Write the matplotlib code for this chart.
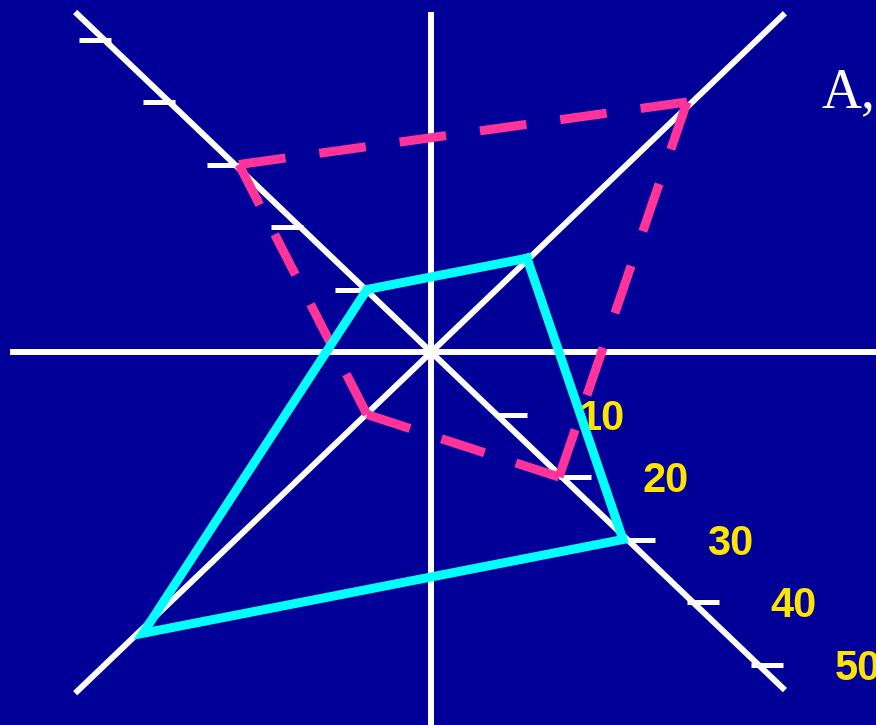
import numpy as np
import matplotlib
matplotlib.use("Agg")
import matplotlib.pyplot as plt

# ---- data ----
axis_names = ["NE", "SE", "SW", "NW"]
axis_dirs = [(1, 1), (1, -1), (-1, -1), (-1, 1)]
cyan_values = [15, 30, 45, 10]
pink_values = [40, 20, 10, 30]
tick_values = [10, 20, 30, 40, 50]
tick_labels = ["10", "20", "30", "40", "50"]
title_text = "A,"

BG = "#000099"
W, H, DPI = 876, 725, 100

fig = plt.figure(figsize=(W / DPI, H / DPI), dpi=DPI, facecolor=BG)
ax = fig.add_axes([0, 0, 1, 1])
ax.set_facecolor(BG)
ax.set_xlim(-67.34, 69.53)
ax.set_ylim(-59.68, 56.32)
ax.axis("off")

white_lw = 4.3
# axis lines
ax.plot([-65.8, 75], [0, 0], color="white", lw=white_lw, solid_capstyle="butt", zorder=1)
ax.plot([0, 0], [-65, 54.4], color="white", lw=white_lw, solid_capstyle="butt", zorder=1)
ax.plot([-55.6, 55.3], [54.4, -54.1], color="white", lw=white_lw, solid_capstyle="butt", zorder=1)
ax.plot([-55.6, 55.3], [-54.6, 54.2], color="white", lw=white_lw, solid_capstyle="butt", zorder=1)

# tick marks on the NW-SE diagonal
tick_len = 5.0
for v in tick_values:
    ax.plot([v, v + tick_len], [-v, -v], color="white", lw=3.6, solid_capstyle="butt", zorder=1)
    ax.plot([-v - tick_len, -v], [v, v], color="white", lw=3.6, solid_capstyle="butt", zorder=1)

# tick labels
for v, lab in zip(tick_values, tick_labels):
    ax.text(v + 16.7, -v - 0.7, lab, color="#FFE400", fontsize=30, fontweight="bold",
            family=["Liberation Sans", "DejaVu Sans"], ha="center", va="center",
            zorder=2, clip_on=False)


def verts(values):
    return [(d[0] * v, d[1] * v) for d, v in zip(axis_dirs, values)]


# pink dashed polygon, each side drawn separately so each starts and ends with a dash
pv = verts(pink_values)
dash_px, gap_px = 48.0, 35.0
for i in range(len(pv)):
    p0, p1 = pv[i], pv[(i + 1) % len(pv)]
    d0 = ax.transData.transform(p0)
    d1 = ax.transData.transform(p1)
    L = float(np.hypot(*(d1 - d0)))
    n = max(1, int(round((L - dash_px) / (dash_px + gap_px))))
    s = L / (n * (dash_px + gap_px) + dash_px)
    lw = 6.5
    on = dash_px * s * 72 / DPI / lw
    off = gap_px * s * 72 / DPI / lw
    ax.plot([p0[0], p1[0]], [p0[1], p1[1]], color="#FF3399", lw=lw,
            linestyle=(0, (on, off)), dash_capstyle="butt", zorder=3)

# cyan solid polygon
cv = verts(cyan_values)
cx = [p[0] for p in cv] + [cv[0][0]]
cy = [p[1] for p in cv] + [cv[0][1]]
ax.plot(cx, cy, color="#00FFFF", lw=6.5, solid_joinstyle="miter", zorder=4)

# partially visible title text at top right
fig.text(822 / W, 1 - 107 / H, title_text, color="white", fontsize=40,
         family=["Liberation Serif", "DejaVu Serif"], ha="left", va="baseline")

fig.savefig("out.png", dpi=DPI, facecolor=BG)
